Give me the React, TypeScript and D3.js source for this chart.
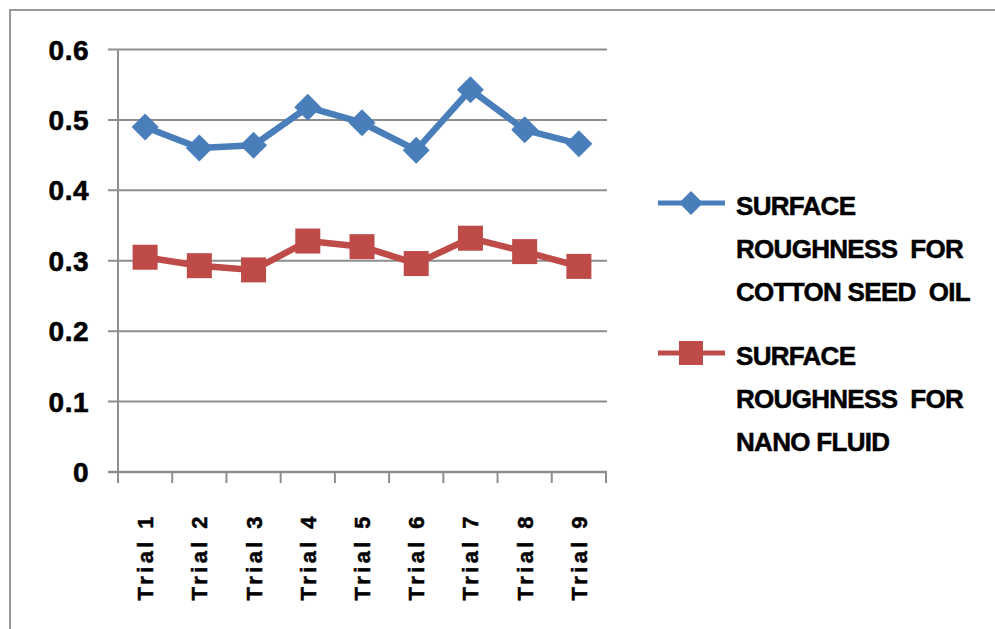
import React from "react";
import * as d3 from "d3";

const categories = ["Trial 1", "Trial 2", "Trial 3", "Trial 4", "Trial 5", "Trial 6", "Trial 7", "Trial 8", "Trial 9"];
const cottonSeedOil = [0.49, 0.46, 0.464, 0.518, 0.496, 0.457, 0.543, 0.486, 0.466];
const nanoFluid = [0.305, 0.293, 0.287, 0.328, 0.32, 0.296, 0.332, 0.313, 0.292];
const yTicks = [0, 0.1, 0.2, 0.3, 0.4, 0.5, 0.6];
const legendCotton = ["SURFACE", "ROUGHNESS  FOR", "COTTON SEED  OIL"];
const legendNano = ["SURFACE", "ROUGHNESS  FOR", "NANO FLUID"];

const BLUE = "#4a7ebb";
const RED = "#be4b48";
const GRID = "#8e8e8e";

export default function App() {
  const W = 995, H = 629;
  const left = 118, right = 606, top = 49.5, bottom = 472;
  const x = d3.scaleBand<string>().domain(categories).range([left, right]).padding(0);
  const y = d3.scaleLinear().domain([0, 0.6]).range([bottom, top]);
  const cx = (c: string) => (x(c) as number) + x.bandwidth() / 2;
  const line = d3.line<number>().x((_, i) => cx(categories[i])).y((d) => y(d));
  const diamond = (px: number, py: number, r: number) =>
    `M${px},${py - r}L${px + r},${py}L${px},${py + r}L${px - r},${py}Z`;
  const fontFam = "'Liberation Sans', Arial, sans-serif";

  return (
    <svg width={W} height={H} style={{ position: "absolute", left: 0, top: 0, background: "#fff" }}>
      <rect x={0} y={0} width={W} height={H} fill="#fff" />
      <rect x={10} y={10} width={W + 20} height={H + 20} fill="none" stroke="#999" strokeWidth={2} />
      {/* gridlines */}
      {yTicks.map((t) => (
        <line key={t} x1={left - 10} x2={right + 1} y1={y(t)} y2={y(t)} stroke={GRID} strokeWidth={t === 0 ? 2.5 : 2} />
      ))}
      {/* y axis */}
      <line x1={left} x2={left} y1={top} y2={bottom} stroke={GRID} strokeWidth={2} />
      {/* x ticks */}
      {[...categories.map((c) => x(c) as number), right].map((px, i) => (
        <line key={i} x1={px} x2={px} y1={bottom} y2={bottom + 11} stroke={GRID} strokeWidth={2} />
      ))}
      {/* y labels */}
      {yTicks.map((t) => (
        <text key={t} x={89} y={y(t) + 10} textAnchor="end" fontFamily={fontFam} fontWeight="bold" fontSize={28} letterSpacing={0.5} stroke="#000" strokeWidth={0.6} fill="#000">
          {t === 0 ? "0" : d3.format(".1f")(t)}
        </text>
      ))}
      {/* x labels */}
      {categories.map((c) => (
        <text
          key={c}
          transform={`translate(${cx(c) + 8},${513}) rotate(-90)`}
          textAnchor="end"
          fontFamily={fontFam}
          fontWeight="bold"
          fontSize={22}
          letterSpacing={3.4}
          stroke="#000"
          strokeWidth={0.5}
          fill="#000"
        >
          {c}
        </text>
      ))}
      {/* series */}
      <path d={line(cottonSeedOil) || ""} fill="none" stroke={BLUE} strokeWidth={6.5} strokeLinejoin="round" />
      {cottonSeedOil.map((v, i) => (
        <path key={i} d={diamond(cx(categories[i]), y(v), 13.5)} fill={BLUE} />
      ))}
      <path d={line(nanoFluid) || ""} fill="none" stroke={RED} strokeWidth={6.5} strokeLinejoin="round" />
      {nanoFluid.map((v, i) => (
        <rect key={i} x={cx(categories[i]) - 12.5} y={y(v) - 12.5} width={25} height={25} fill={RED} />
      ))}
      {/* legend */}
      <line x1={658} x2={725} y1={203} y2={203} stroke={BLUE} strokeWidth={5} />
      <path d={diamond(691, 203, 12)} fill={BLUE} />
      {legendCotton.map((s, i) => (
        <text key={i} x={736} y={215 + i * 43} fontFamily={fontFam} fontWeight="bold" fontSize={26} letterSpacing={-0.7} stroke="#000" strokeWidth={0.5} fill="#000" style={{ whiteSpace: "pre" }}>
          {s}
        </text>
      ))}
      <line x1={658} x2={725} y1={353} y2={353} stroke={RED} strokeWidth={5} />
      <rect x={691 - 12} y={353 - 12} width={24} height={24} fill={RED} />
      {legendNano.map((s, i) => (
        <text key={i} x={736} y={365 + i * 43} fontFamily={fontFam} fontWeight="bold" fontSize={26} letterSpacing={-0.7} stroke="#000" strokeWidth={0.5} fill="#000" style={{ whiteSpace: "pre" }}>
          {s}
        </text>
      ))}
    </svg>
  );
}
